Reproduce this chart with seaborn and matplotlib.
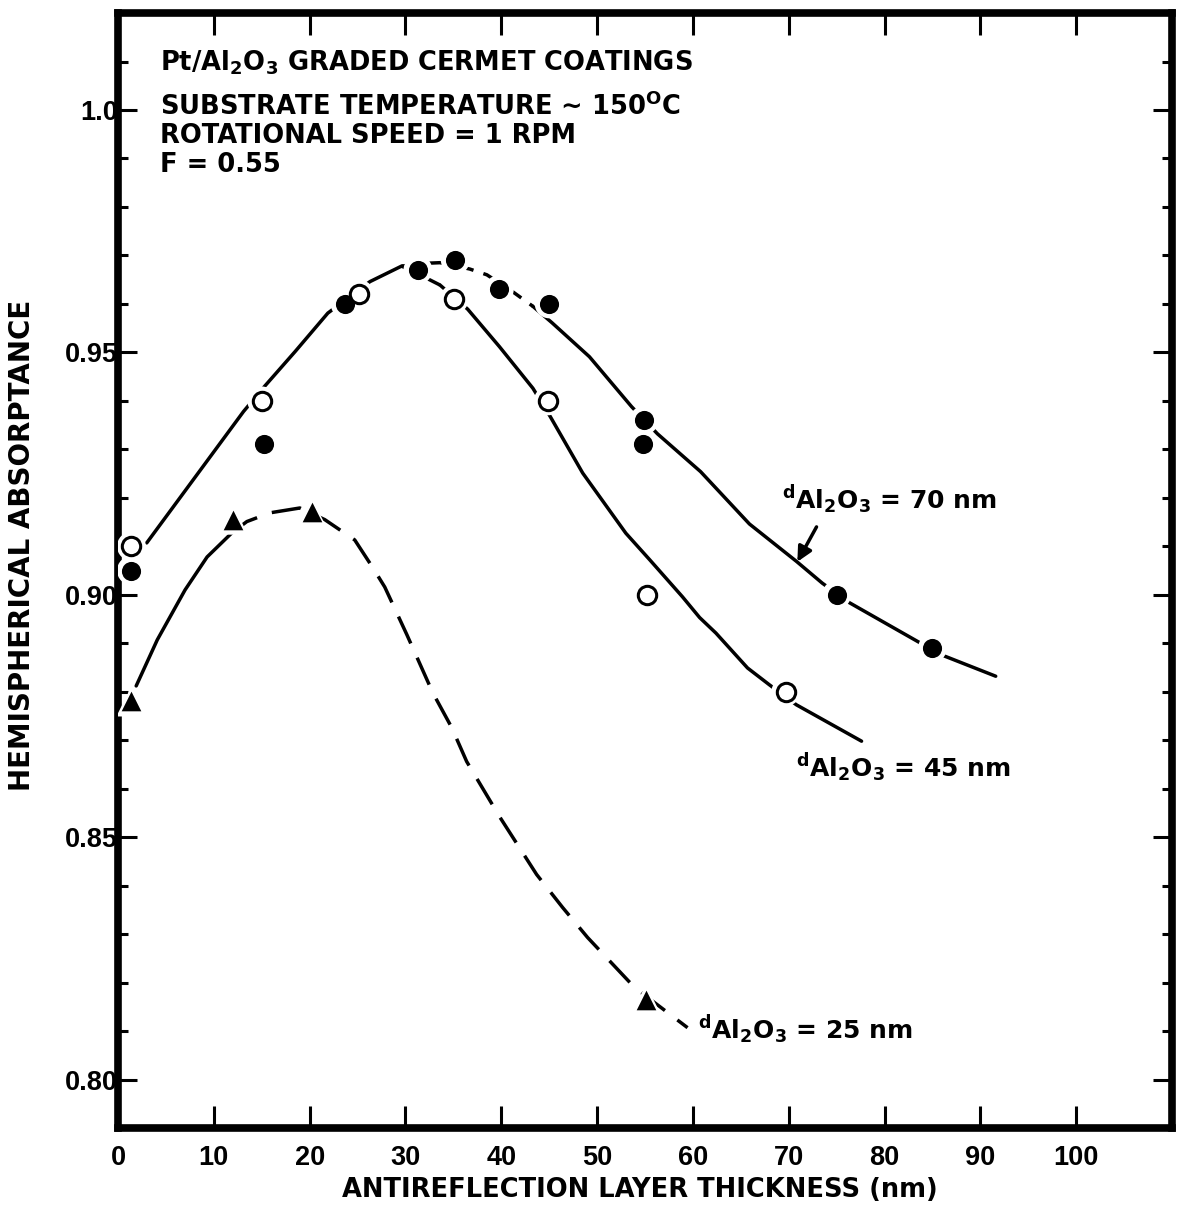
import matplotlib
matplotlib.use("Agg")
import matplotlib.pyplot as plt
import seaborn as sns
import pandas as pd
from matplotlib.ticker import FixedLocator, MultipleLocator

# ---------------- data ----------------
# measured points, d(Al2O3) = 70 nm (filled circles)
x70 = [1.4, 15.2, 23.7, 31.3, 35.2, 39.8, 45.0, 54.9, 54.8, 75.0, 85.0]
y70 = [0.905, 0.931, 0.960, 0.967, 0.969, 0.963, 0.960, 0.936, 0.931, 0.900, 0.889]
# measured points, d(Al2O3) = 45 nm (open circles)
x45 = [1.4, 15.0, 25.2, 35.1, 44.9, 55.2, 69.7]
y45 = [0.910, 0.940, 0.962, 0.961, 0.940, 0.900, 0.880]
# measured points, d(Al2O3) = 25 nm (triangles)
x25 = [1.4, 12.0, 20.2, 55.1]
y25 = [0.878, 0.9155, 0.917, 0.8165]

# hand-drawn curves
common_x = [3.0, 13.1, 15.3, 18.5, 21.9, 26.3, 29.6]
common_y = [0.9107, 0.9378, 0.9430, 0.9502, 0.9581, 0.9646, 0.9678]
c70_dash_x = [29.6, 32.4, 33.6, 36.7, 38.5, 41.2, 43.3]
c70_dash_y = [0.9678, 0.9684, 0.9685, 0.9672, 0.9660, 0.9625, 0.9595]
c70_x = [43.3, 45.3, 49.2, 53.6, 56.3, 60.8, 65.9, 70.8, 73.5, 76.3, 83.6, 86.2, 91.6]
c70_y = [0.9595, 0.9561, 0.9491, 0.9388, 0.9332, 0.9254, 0.9146, 0.9069, 0.9024,
         0.8984, 0.8902, 0.8874, 0.8832]
c45_dash_x = [29.6, 32.4, 33.6]
c45_dash_y = [0.9678, 0.9651, 0.9639]
c45_x = [33.6, 36.5, 39.8, 43.3, 45.1, 48.5, 53.0, 55.5, 58.9, 60.7, 62.4, 65.7, 68.0,
         70.8, 77.6]
c45_y = [0.9639, 0.9589, 0.9512, 0.9426, 0.9368, 0.9251, 0.9127, 0.9072, 0.8996,
         0.8953, 0.8921, 0.8849, 0.8814, 0.8773, 0.8698]
c25_x = [1.9, 4.1, 7.0, 9.3, 11.9]
c25_y = [0.8812, 0.8907, 0.9010, 0.9078, 0.9128]
c25_dash_x = [11.9, 13.45, 15.85, 18.98, 21.58, 24.71, 26.59, 27.84, 30.14, 32.85, 34.83,
              36.39, 39.83, 43.69, 46.40, 49.01, 53.91, 59.44]
c25_dash_y = [0.9128, 0.9151, 0.9169, 0.9179, 0.9155, 0.9113, 0.9056, 0.9016, 0.8918,
              0.8798, 0.8726, 0.8656, 0.8542, 0.8423, 0.8355, 0.8293, 0.8190, 0.8107]

x_ticks = [0, 10, 20, 30, 40, 50, 60, 70, 80, 90, 100]
y_ticks = [0.80, 0.85, 0.90, 0.95, 1.0]
y_tick_labels = ["0.80", "0.85", "0.90", "0.95", "1.0"]

title_lines = ["Pt/Al$_2$O$_3$ GRADED CERMET COATINGS",
               "SUBSTRATE TEMPERATURE \u223c 150$^{O}$C",
               "ROTATIONAL SPEED = 1 RPM",
               "F = 0.55"]
curve_labels = ["$^{d}$Al$_2$O$_3$ = 70 nm",
                "$^{d}$Al$_2$O$_3$ = 45 nm",
                "$^{d}$Al$_2$O$_3$ = 25 nm"]

# ---------------- style ----------------
sns.set_theme(style="ticks")
plt.rcParams["font.family"] = ["DejaVu Sans"]
plt.rcParams["font.weight"] = "bold"
plt.rcParams["mathtext.fontset"] = "dejavusans"
plt.rcParams["mathtext.default"] = "bf"
for key in ["text.color", "axes.labelcolor", "xtick.color", "ytick.color",
            "axes.edgecolor", "xtick.labelcolor", "ytick.labelcolor"]:
    plt.rcParams[key] = "black"

fig = plt.figure(figsize=(11.81, 12.17), dpi=100)
ax = fig.add_axes([0.0999, 0.0731, 0.8925, 0.9162])

LW = 2.5


def curve(xs, ys, ls="-"):
    df = pd.DataFrame({"x": xs, "y": ys})
    sns.lineplot(data=df, x="x", y="y", ax=ax, color="black", lw=LW,
                 estimator=None, sort=False, linestyle=ls, zorder=2,
                 solid_joinstyle="round", dash_joinstyle="round")


curve(common_x, common_y)
curve(c70_dash_x, c70_dash_y, (0, (5, 3)))
curve(c70_x, c70_y)
curve(c45_dash_x, c45_dash_y, (0, (5, 3)))
curve(c45_x, c45_y)
curve(c25_x, c25_y)
curve(c25_dash_x, c25_dash_y, (0, (8.5, 4.5)))

# white halos so the curves break around the symbols
for xs, ys, mk, s in [(x70, y70, "o", 430), (x45, y45, "o", 430), (x25, y25, "^", 470)]:
    sns.scatterplot(x=xs, y=ys, ax=ax, marker=mk, s=s, color="white",
                    edgecolor="none", zorder=3)

sns.scatterplot(x=x70, y=y70, ax=ax, marker="o", s=190, color="black",
                edgecolor="black", linewidth=0, zorder=4)
sns.scatterplot(x=x45, y=y45, ax=ax, marker="o", s=175, color="white",
                edgecolor="black", linewidth=2.2, zorder=4)
sns.scatterplot(x=x25, y=y25, ax=ax, marker="^", s=200, color="black",
                edgecolor="black", linewidth=0, zorder=4)

# ---------------- axes ----------------
ax.set_xlim(0, 110)
ax.set_ylim(0.790, 1.020)
for sp in ax.spines.values():
    sp.set_linewidth(5.5)
    sp.set_color("black")

ax.xaxis.set_major_locator(FixedLocator(x_ticks))
ax.set_xticklabels([str(t) for t in x_ticks])
ax.yaxis.set_major_locator(FixedLocator(y_ticks))
ax.set_yticklabels(y_tick_labels)
ax.yaxis.set_minor_locator(MultipleLocator(0.01))

ax.tick_params(axis="x", which="major", direction="in", top=True, bottom=True,
               length=16, width=2.2, pad=12, labelsize=19.5, color="black",
               labelcolor="black")
ax.tick_params(axis="y", which="major", direction="in", left=True, right=True,
               length=14, width=2.2, pad=0, labelsize=19.5, color="black",
               labelcolor="black")
ax.tick_params(axis="y", which="minor", direction="in", left=True, right=True,
               length=7, width=2.2, color="black")
for lab in ax.get_xticklabels() + ax.get_yticklabels():
    lab.set_fontfamily(["Liberation Sans", "DejaVu Sans"])
    lab.set_fontweight("bold")

ax.set_xlabel("ANTIREFLECTION LAYER THICKNESS (nm)", fontsize=18.5,
              fontweight="bold", color="black")
ax.xaxis.label.set_va("center")
ax.xaxis.set_label_coords(0.495, -0.0556)
ax.set_ylabel("HEMISPHERICAL ABSORPTANCE", fontsize=20, fontweight="bold",
              color="black")
ax.yaxis.label.set_va("center")
ax.yaxis.set_label_coords(-0.0911, 0.523)

# ---------------- annotations ----------------
title_y = [1.0082, 0.9990, 0.9931, 0.9873]
for txt, yy in zip(title_lines, title_y):
    ax.text(4.4, yy, txt, fontsize=18.5, fontweight="bold", ha="left",
            va="baseline", color="black")

label_pos = [(69.3, 0.9196), (70.8, 0.8643), (60.5, 0.8103)]
for txt, (xx, yy) in zip(curve_labels, label_pos):
    ax.text(xx, yy, txt, fontsize=18, fontweight="bold", ha="left",
            va="center", color="black")

ax.annotate("", xy=(70.9, 0.9068), xytext=(72.9, 0.9140),
            arrowprops=dict(arrowstyle="-|>", color="black", lw=2.5,
                            mutation_scale=22, shrinkA=0, shrinkB=0))

ax.set_facecolor("white")
fig.patch.set_facecolor("white")
fig.savefig("out.png", dpi=100, facecolor="white")
